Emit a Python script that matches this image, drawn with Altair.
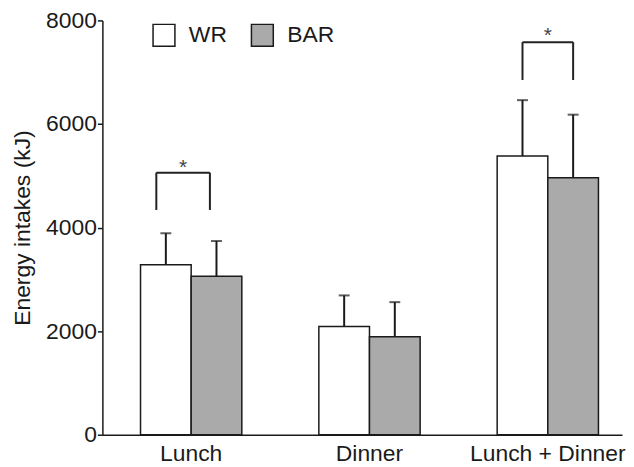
import altair as alt
import pandas as pd

categories = ["Lunch", "Dinner", "Lunch + Dinner"]
groups = ["WR", "BAR"]
wr_mean = [3280, 2090, 5380]
wr_sd = [610, 600, 1080]
bar_mean = [3060, 1890, 4960]
bar_sd = [680, 670, 1220]

bracket_cat = ["Lunch", "Lunch + Dinner"]
bracket_top = [5060, 7580]
bracket_low = [4340, 6850]
star_y = [5240, 7790]
bracket_band = [(0.156, 0.685), (0.25, 0.75)]

rows = []
for i, c in enumerate(categories):
    rows.append({"cat": c, "group": "WR", "mean": wr_mean[i], "upper": wr_mean[i] + wr_sd[i]})
    rows.append({"cat": c, "group": "BAR", "mean": bar_mean[i], "upper": bar_mean[i] + bar_sd[i]})
df = pd.DataFrame(rows)

FONT = "Liberation Sans"
FS = 23
INK = "#1a1a1a"
YT = "Energy intakes (kJ)"

xscale = alt.Scale(domain=categories, paddingInner=0.432, paddingOuter=0.173, align=0.618)
xaxis = alt.Axis(title=None, ticks=False, labelFontSize=FS, labelPadding=8, labelAngle=0,
                 labelColor=INK, labelFont=FONT, domainColor=INK, domainWidth=1.5)
yscale = alt.Scale(domain=[0, 8000], nice=False)
yaxis = alt.Axis(values=[0, 2000, 4000, 6000, 8000], format="d", title=YT, grid=False,
                 labelFontSize=FS, labelFont=FONT, labelColor=INK, labelPadding=1,
                 tickSize=5, tickColor=INK, tickWidth=1.5, domainColor=INK, domainWidth=1.5,
                 titleFontSize=FS, titleFont=FONT, titleFontWeight="normal", titleColor=INK,
                 titlePadding=11)
xoff = alt.XOffset("group:N", scale=alt.Scale(domain=groups, paddingInner=0, paddingOuter=0))

base = alt.Chart(df)

bars = base.mark_bar(stroke=INK, strokeWidth=1.5).encode(
    x=alt.X("cat:N", scale=xscale, axis=xaxis),
    xOffset=xoff,
    y=alt.Y("mean:Q", scale=yscale, axis=yaxis, title=YT),
    fill=alt.Fill("group:N", scale=alt.Scale(domain=groups, range=["#ffffff", "#aaaaaa"]),
                  legend=alt.Legend(title=None, orient="none", legendX=50, legendY=3,
                                    direction="horizontal", symbolType="square", symbolSize=484,
                                    symbolStrokeColor=INK, symbolStrokeWidth=1.5, symbolOpacity=1,
                                    labelFontSize=FS, labelFont=FONT, labelColor=INK,
                                    labelOffset=13, columnPadding=21, padding=0)),
)

stems = base.mark_rule(color=INK, strokeWidth=2).encode(
    x=alt.X("cat:N", scale=xscale),
    xOffset=xoff,
    y=alt.Y("mean:Q", scale=yscale, title=YT),
    y2="upper:Q",
)

caps = base.mark_tick(color=INK, thickness=2, size=11, orient="horizontal").encode(
    x=alt.X("cat:N", scale=xscale),
    xOffset=xoff,
    y=alt.Y("upper:Q", scale=yscale, title=YT),
)

layers = [bars, stems, caps]
for i, c in enumerate(bracket_cat):
    bd = pd.DataFrame({"cat": [c], "top": [bracket_top[i]], "low": [bracket_low[i]],
                       "star": [star_y[i]]})
    lft, rgt = bracket_band[i]
    b = alt.Chart(bd)
    layers.append(b.mark_rule(color="#222222", strokeWidth=2).encode(
        x=alt.X("cat:N", scale=xscale, bandPosition=lft),
        x2=alt.X2("cat:N", bandPosition=rgt),
        y=alt.Y("top:Q", scale=yscale, title=YT),
    ))
    for pos in (lft, rgt):
        layers.append(b.mark_rule(color="#222222", strokeWidth=2).encode(
            x=alt.X("cat:N", scale=xscale, bandPosition=pos),
            y=alt.Y("low:Q", scale=yscale, title=YT),
            y2="top:Q",
        ))
    layers.append(b.mark_text(text="*", fontSize=21, font=FONT, color="#444444",
                              baseline="middle", dy=5).encode(
        x=alt.X("cat:N", scale=xscale, bandPosition=(lft + rgt) / 2),
        y=alt.Y("star:Q", scale=yscale, title=YT),
    ))

chart = alt.layer(*layers).properties(
    width=523, height=417,
    padding={"left": 3, "top": 0, "right": 0, "bottom": 0},
).configure_view(stroke=None)

chart.save("out.html", embed_options={"renderer": "svg", "actions": False})
